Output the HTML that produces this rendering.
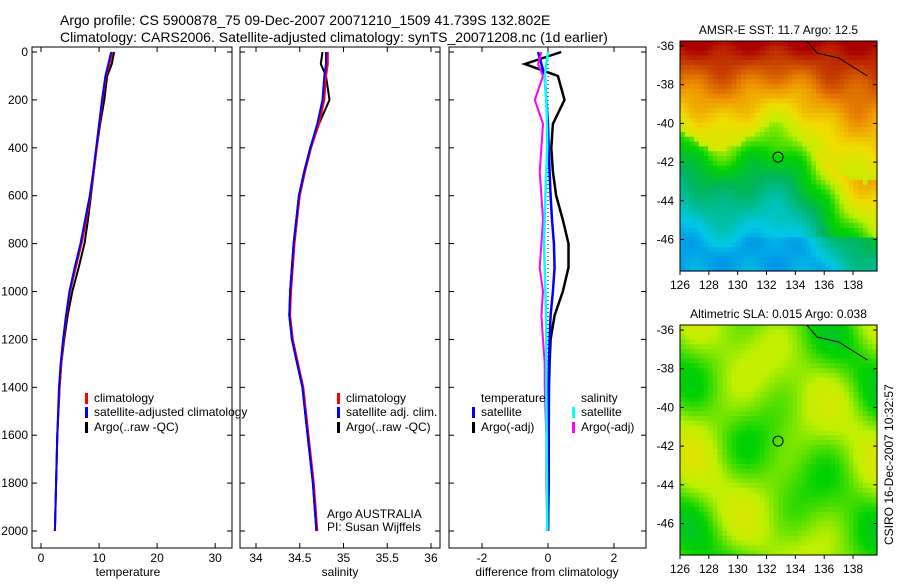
<!DOCTYPE html>
<html><head><meta charset="utf-8"><style>
body{margin:0;background:#fff;width:900px;height:580px;overflow:hidden;font-family:"Liberation Sans",sans-serif}
svg text{font-family:"Liberation Sans",sans-serif;fill:#000}
</style></head><body>
<svg id="c" width="900" height="580" xmlns="http://www.w3.org/2000/svg">
<text x="60" y="25" font-size="14">Argo profile: CS 5900878_75 09-Dec-2007 20071210_1509 41.739S 132.802E</text>
<text x="60" y="42" font-size="14">Climatology: CARS2006. Satellite-adjusted climatology: synTS_20071208.nc (1d earlier)</text>
<g id="g"></g>
</svg>
<script>
// data
const depths=[0,50,100,200,300,400,500,600,700,800,900,1000,1100,1200,1300,1400,1600,1800,2000];
const tempClim=[12.3,11.8,11.2,10.6,10.1,9.6,9.1,8.5,7.8,7.0,6.0,5.0,4.4,3.9,3.5,3.2,2.8,2.6,2.4];
const tempSat=[12.1,11.6,11.1,10.5,10.0,9.5,9.0,8.4,7.6,6.8,5.8,4.9,4.3,3.8,3.4,3.1,2.8,2.6,2.4];
const tempArgo=[12.6,12.2,11.4,10.9,10.2,9.6,9.1,8.6,8.1,7.5,6.5,5.4,4.6,4.0,3.5,3.2,2.8,2.6,2.4];
const salClim=[34.82,34.82,34.8,34.78,34.72,34.63,34.56,34.5,34.47,34.44,34.42,34.4,34.39,34.42,34.48,34.54,34.6,34.66,34.7];
const salSat=[34.8,34.8,34.78,34.76,34.7,34.62,34.55,34.49,34.46,34.43,34.41,34.39,34.38,34.41,34.47,34.53,34.59,34.65,34.69];
const salArgo=[34.76,34.74,34.8,34.84,34.72,34.62,34.55,34.49,34.46,34.43,34.41,34.39,34.38,34.41,34.47,34.53,34.59,34.65,34.69];
const dTempSat=[-0.3,-0.2,-0.1,-0.05,0,0.02,0.05,0.08,0.12,0.18,0.2,0.15,0.08,0.05,0.03,0.02,0.02,0.01,0.0];
const dTempArgo=[0.4,-0.7,0.3,0.5,0.15,0.1,0.15,0.25,0.45,0.62,0.62,0.45,0.2,0.08,0.05,0.03,0.02,0.02,0.0];
const dSalSat=[0.0,-0.05,-0.1,-0.05,-0.03,-0.02,-0.05,-0.08,-0.1,-0.12,-0.1,-0.08,-0.06,-0.05,-0.05,-0.05,-0.04,-0.03,-0.02];
const dSalArgo=[-0.2,-0.3,-0.15,-0.4,-0.15,-0.2,-0.25,-0.2,-0.15,-0.2,-0.25,-0.15,-0.2,-0.15,-0.1,-0.1,-0.05,-0.05,-0.02];
const tempTicks=[0,10,20,30];
const salTicks=[34,34.5,35,35.5,36];
const difTicks=[-2,0,2];
const depthTicks=[0,200,400,600,800,1000,1200,1400,1600,1800,2000];
const latTicks=[-36,-38,-40,-42,-44,-46];
const lonTicks=[126,128,130,132,134,136,138];

const NS="http://www.w3.org/2000/svg";
const G=document.getElementById('g');
function el(t,a,p){const e=document.createElementNS(NS,t);for(const k in a)e.setAttribute(k,a[k]);(p||G).appendChild(e);return e;}
const Y=d=>52+d*0.2395;
const panels=[
 {x0:32,x1:232,xv0:-1.55,xv1:32.9,ticks:tempTicks,label:"temperature",lx:128,name:"temperature"},
 {x0:240,x1:440,xv0:33.817,xv1:36.103,ticks:salTicks,label:"salinity",lx:340,name:"salinity"},
 {x0:449,x1:646,xv0:-3.0,xv1:2.97,ticks:difTicks,label:"difference from climatology",lx:547,name:"difference"}];
panels.forEach((p,i)=>{
 p.X=v=>p.x0+(v-p.xv0)/(p.xv1-p.xv0)*(p.x1-p.x0);
 const r=el('rect',{x:p.x0,y:47,width:p.x1-p.x0,height:501,fill:'#fff',stroke:'#000','stroke-width':1});
 
 
 p.ticks.forEach(t=>{const x=p.X(t);
  el('line',{x1:x,x2:x,y1:548,y2:543,stroke:'#000'});el('line',{x1:x,x2:x,y1:47,y2:52,stroke:'#000'});
  const tx=el('text',{x:x,y:562,'font-size':12,'text-anchor':'middle'});tx.textContent=t;
  
  });
 depthTicks.forEach(d=>{el('line',{x1:p.x0,x2:p.x0+5,y1:Y(d),y2:Y(d),stroke:'#000'});el('line',{x1:p.x1,x2:p.x1-5,y1:Y(d),y2:Y(d),stroke:'#000'});
  if(i==0){const tx=el('text',{x:28,y:Y(d)+4,'font-size':12,'text-anchor':'end'});tx.textContent=d;
   
   }});
 const lb=el('text',{x:p.lx,y:576,'font-size':12,'text-anchor':'middle'});lb.textContent=p.label;
 
 
});
function line(p,vals,col,w,name){const pts=depths.map((d,i)=>p.X(vals[i]).toFixed(1)+','+Y(d).toFixed(1)).join(' ');
 const l=el('polyline',{points:pts,fill:'none',stroke:col,'stroke-width':w});
 
 }
const P=panels;
line(P[0],tempArgo,'#000',2,'temp-argo-line');line(P[0],tempClim,'#f00',2,'temp-clim-line');line(P[0],tempSat,'#00f',2,'temp-sat-line');
line(P[1],salArgo,'#000',2,'sal-argo-line');line(P[1],salClim,'#f00',2,'sal-clim-line');line(P[1],salSat,'#00f',2,'sal-sat-line');
el('line',{x1:P[2].X(0),x2:P[2].X(0),y1:52,y2:531,stroke:'#000','stroke-dasharray':'1,3'});
line(P[2],dTempArgo,'#000',2.5,'diff-temp-argo-line');line(P[2],dTempSat,'#00f',2.5,'diff-temp-sat-line');
line(P[2],dSalArgo,'#f0f',2,'diff-sal-argo-line');line(P[2],dSalSat,'#0ff',2.5,'diff-sal-sat-line');
function leg(x,y,col,txt,name){if(col)el('rect',{x:x,y:y-9,width:3,height:11,fill:col});const t=el('text',{x:x+9,y:y,'font-size':12});t.textContent=txt;
 
 }
leg(85,402,'#f00','climatology','legend-climatology');leg(85,416,'#00f','satellite-adjusted climatology','legend-sat-adj');leg(85,431,'#000','Argo(..raw -QC)','legend-argo');
leg(337,402,'#f00','climatology','legend2-climatology');leg(337,416,'#00f','satellite adj. clim.','legend2-sat');leg(337,431,'#000','Argo(..raw -QC)','legend2-argo');
leg(472,402,null,'temperature','legend3-temp-title');leg(472,416,'#00f','satellite','legend3-temp-sat');leg(472,431,'#000','Argo(-adj)','legend3-temp-argo');
leg(572,402,null,'salinity','legend3-sal-title');leg(572,416,'#0ff','satellite','legend3-sal-sat');leg(572,431,'#f0f','Argo(-adj)','legend3-sal-argo');
leg(318,518,null,'Argo AUSTRALIA','institution-label');leg(318,531,null,'PI: Susan Wijffels','pi-label');

// maps
function sstCol(v){const stops=[[0,[0,80,230]],[0.2,[0,200,230]],[0.4,[0,180,90]],[0.5,[0,210,0]],[0.6,[190,240,0]],[0.7,[240,220,0]],[0.8,[240,150,0]],[1,[170,0,0]]];
 v=Math.max(0,Math.min(1,v));for(let i=1;i<stops.length;i++)if(v<=stops[i][0]){const a=stops[i-1],b=stops[i],f=(v-a[0])/(b[0]-a[0]);return 'rgb('+a[1].map((c,k)=>Math.round(c+(b[1][k]-c)*f)).join(',')+')';}return 'rgb(170,0,0)';}
function map(y0,y1,title,fn,name){
 const x0=680,x1=877,LX=l=>680+(l-126)*14.42,LY=l=>46+(y0-41)+(-36-l)*19.35;
 const g=el('g',{});
 const nx=42,ny=48,cw=(x1-x0)/nx,ch=(y1-y0)/ny;
 for(let j=0;j<ny;j++)for(let i=0;i<nx;i++){el('rect',{x:(x0+i*cw).toFixed(2),y:(y0+j*ch).toFixed(2),width:(cw+0.6).toFixed(2),height:(ch+0.6).toFixed(2),fill:sstCol(fn(i/nx,j/ny))},g);}
 el('path',{d:`M${LX(134.8)},${y0} L${LX(135.5)},${y0+12} L${LX(137)},${y0+17} L${LX(139)},${y0+35}`,fill:'none',stroke:'#000'},g);
 el('rect',{x:x0,y:y0,width:x1-x0,height:y1-y0,fill:'none',stroke:'#000'},g);
 el('circle',{cx:LX(132.8),cy:LY(-41.74),r:5,fill:'none',stroke:'#000'},g);
 latTicks.forEach(l=>{el('line',{x1:x0,x2:x0+4,y1:LY(l),y2:LY(l),stroke:'#000'},g);el('line',{x1:x1,x2:x1-4,y1:LY(l),y2:LY(l),stroke:'#000'},g);
  const t=el('text',{x:x0-6,y:LY(l)+4,'font-size':12,'text-anchor':'end'},g);t.textContent=l;});
 lonTicks.forEach(l=>{el('line',{x1:LX(l),x2:LX(l),y1:y1,y2:y1+4,stroke:'#000'},g);
  const t=el('text',{x:LX(l),y:y1+18,'font-size':12,'text-anchor':'middle'},g);t.textContent=l;});
 const t=el('text',{x:(x0+x1)/2,y:y0-7,'font-size':12,'text-anchor':'middle'},g);t.textContent=title;
}
map(41,271,'AMSR-E SST: 11.7 Argo: 12.5',(u,v)=>{
 let edge=0.38+0.08*Math.sin(u*9)+0.18*u*u;
 let b;
 if(v<edge) b=0.62+(edge-v)/edge*0.38; else b=Math.max(0.14,0.55-(v-edge)*0.9+0.25*u*u*(v<0.85?1:0.5));
 b+=0.03*Math.sin(u*23)*Math.cos(v*19);
 return b;},'sst-map');
map(325,555,'Altimetric SLA: 0.015 Argo: 0.038',(u,v)=>0.56+0.05*Math.sin(u*13+1)*Math.cos(v*11)+0.05*Math.sin(u*7-v*9)+0.04*Math.exp(-((u-0.15)**2+(v-0.35)**2)*40),'sla-map');
const cs=el('text',{transform:'translate(893,545) rotate(-90)','font-size':12});cs.textContent='CSIRO 16-Dec-2007 10:32:57';


</script>
</body></html>
